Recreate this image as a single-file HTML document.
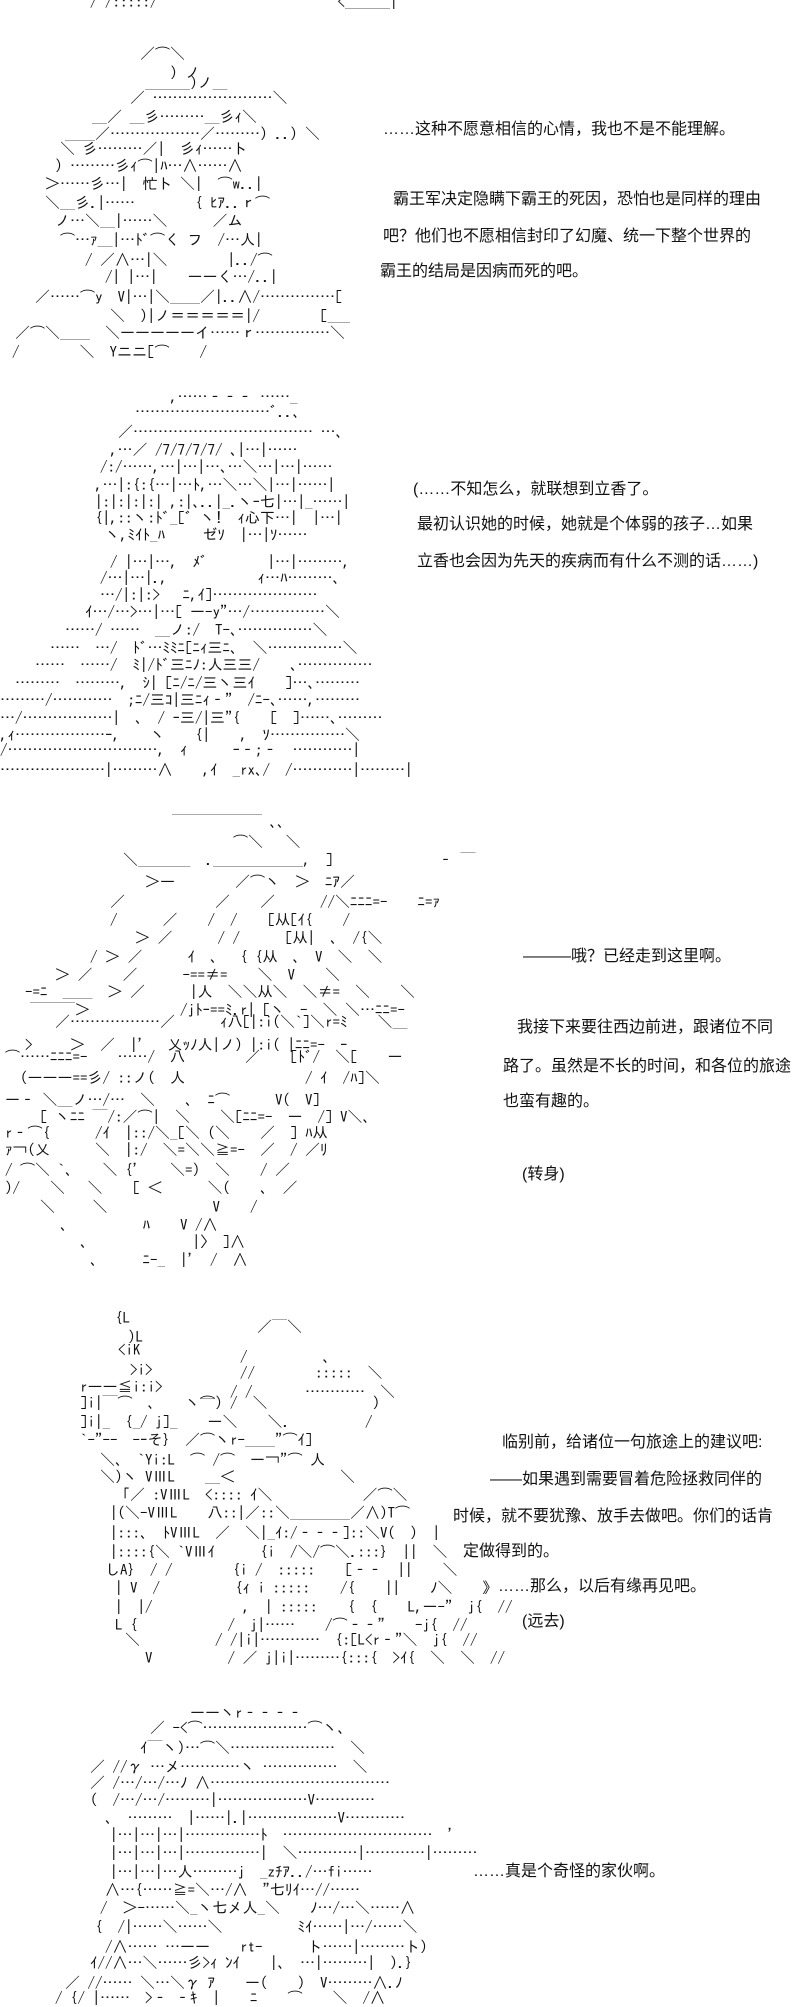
<!DOCTYPE html>
<html><head><meta charset="utf-8">
<style>
html,body{margin:0;padding:0;background:#fff;}
body{width:800px;height:2000px;position:relative;overflow:hidden;}
.a{position:absolute;white-space:pre;font-family:"IPAGothic","Noto Sans CJK JP",sans-serif;font-size:15px;line-height:18px;color:#111;}
.t{position:absolute;white-space:pre;font-family:"Liberation Sans","Noto Sans CJK SC",sans-serif;font-size:16px;line-height:20px;color:#111;}
</style></head><body>

<!-- Panel 1 -->
<div class="a" style="top:-7px;left:90px">/ /:::::/￣￣￣￣￣￣￣￣￣￣￣￣<＿＿＿|</div>
<div class="a" style="top:45px;left:140px">／⌒＼</div>
<div class="a" style="top:64px;left:170px">）ノ</div>
<div class="a" style="top:74px;left:145px">＿＿＿)ノ＿</div>
<div class="a" style="top:89px;left:130px">／ ……………………＼</div>
<div class="a" style="top:108px;left:92px">＿／ ＿彡………＿彡ｨ＼</div>
<div class="a" style="top:125px;left:65px">＿＿／………………／………）..）＼</div>
<div class="a" style="top:140px;left:60px">＼ 彡………／|　彡ｨ……ト</div>
<div class="a" style="top:157px;left:55px">）………彡ｨ⌒|ﾊ…∧……∧</div>
<div class="a" style="top:175px;left:45px">＞……彡…|　忙ト ＼|　⌒w..|</div>
<div class="a" style="top:194px;left:45px">＼__彡.|……　　　　{ ﾋｱ..ｒ⌒</div>
<div class="a" style="top:212px;left:55px">ノ…＼__|……＼　　　／ム</div>
<div class="a" style="top:231px;left:60px">⌒…ｧ__|…ﾄﾞ⌒く フ　/…人|</div>
<div class="a" style="top:251px;left:85px">/ ／∧…|＼　　　　|../⌒</div>
<div class="a" style="top:268px;left:105px">/| |…|　　ーーく…/..|</div>
<div class="a" style="top:288px;left:35px">／……⌒y　V|…|＼＿＿／|..∧/……………[</div>
<div class="a" style="top:307px;left:110px">＼　)|ノ＝＝＝＝＝|/　　　　[___</div>
<div class="a" style="top:324px;left:15px">／⌒＼＿＿　＼ーーーーーイ……ｒ……………＼</div>
<div class="a" style="top:343px;left:12px">/　　　　＼　Yニニ[⌒　　/</div>

<div class="t" style="top:120px;left:383px">……这种不愿意相信的心情，我也不是不能理解。</div>
<div class="t" style="top:190px;left:393px">霸王军决定隐瞒下霸王的死因，恐怕也是同样的理由</div>
<div class="t" style="top:227px;left:383px">吧？他们也不愿相信封印了幻魔、统一下整个世界的</div>
<div class="t" style="top:262px;left:380px">霸王的结局是因病而死的吧。</div>

<!-- Panel 2 -->
<div class="a" style="top:388px;left:170px">,……‐‐‐ ……_</div>
<div class="a" style="top:403px;left:135px">………………………ﾞ..､</div>
<div class="a" style="top:423px;left:118px">／……………………………… …､</div>
<div class="a" style="top:441px;left:110px">,…／ /7/7/7/7/ ､|…|……</div>
<div class="a" style="top:458px;left:100px">/:/……,…|…|…､…＼…|…|……</div>
<div class="a" style="top:476px;left:95px">,…|:{:{…|…ﾄ,…＼…＼|…|……|</div>
<div class="a" style="top:493px;left:95px">|:|:|:|:| ,:|､..|_.ヽｰ七|…|_……|</div>
<div class="a" style="top:509px;left:95px">{|,::ヽ:ﾄﾞ_[ﾞ ヽ!　ｨ心下…|　|…|</div>
<div class="a" style="top:526px;left:105px">ヽ,ﾐｲﾄ_ﾊ　　 ゼｿ　|…|ｿ……</div>
<div class="a" style="top:553px;left:110px">/ |…|…,　ﾒﾞ　　　　|…|………,</div>
<div class="a" style="top:569px;left:100px">/…|…|.,　　　　　　ｨ…ﾊ………､</div>
<div class="a" style="top:586px;left:100px">…/|:|:>　 ﾆ,ｲ]…………………</div>
<div class="a" style="top:603px;left:85px">ｲ…/…>…|…[ ー-y"…/……………＼</div>
<div class="a" style="top:621px;left:65px">……/ ……　＿ノ:/　T-､……………＼</div>
<div class="a" style="top:639px;left:50px">……　…/　ﾄﾞ…ﾐﾐﾆ[ﾆｨ三ﾆ､　＼……………＼</div>
<div class="a" style="top:656px;left:35px">……　……/　ﾐ|/ﾄﾞ三ﾆﾉ:人三三/　　､……………</div>
<div class="a" style="top:674px;left:15px">………　………,　ｼ| [ﾆ/ﾆ/三ヽ三ｲ　　]…､………</div>
<div class="a" style="top:691px;left:0px">………/…………　;ﾆ/三ｺ|三ﾆｨ‐"　/ﾆ-､……,………</div>
<div class="a" style="top:709px;left:0px">…/………………|　､　/ ｰ三/|三"{　　[　]……､………</div>
<div class="a" style="top:726px;left:0px">,ｨ………………ｰ,　　ヽ　　{|　　,　ｿ……………＼</div>
<div class="a" style="top:741px;left:0px">/…………………………,　ｨ　　　ｰ‐;‐　…………|</div>
<div class="a" style="top:761px;left:0px">…………………|………∧　　,ｲ　_rx､/　/…………|………|</div>

<div class="t" style="top:480px;left:413px">(……不知怎么，就联想到立香了。</div>
<div class="t" style="top:515px;left:417px">最初认识她的时候，她就是个体弱的孩子…如果</div>
<div class="t" style="top:552px;left:417px">立香也会因为先天的疾病而有什么不测的话……)</div>

<!-- Panel 3 -->
<div class="a" style="top:813px;left:172px">￣￣￣￣￣￣ ､､</div>
<div class="a" style="top:833px;left:233px">⌒＼　 ＼</div>
<div class="a" style="top:851px;left:123px">＼＿＿＿_　.＿＿＿＿＿＿,　]　　　　　　　‐ ￣</div>
<div class="a" style="top:873px;left:145px">＞―　　　　／⌒ヽ　＞　ﾆｱ／</div>
<div class="a" style="top:893px;left:110px">／　　　　　　／　　／　　　//＼ﾆﾆﾆ=-　　ﾆ=ｧ</div>
<div class="a" style="top:911px;left:110px">/　　　／　　/　/　　[从[ｲ{　　/</div>
<div class="a" style="top:929px;left:135px">＞ ／　　　/ /　　　[从|　､　/{＼</div>
<div class="a" style="top:948px;left:90px">/ ＞ ／　　　ｲ　、　{ {从　、 V　＼　＼</div>
<div class="a" style="top:966px;left:55px">＞ ／　　／　　　-==≠=　　＼　V　　＼</div>
<div class="a" style="top:983px;left:25px">-=ﾆ　＿＿　＞ ／　　　|人　＼＼从＼　＼≠=　＼　　＼</div>
<div class="a" style="top:1001px;left:30px">￣￣￣＞　　　　　　/jﾄｰ==ﾐ.r| [ヽ　-　＼ ＼…ﾆﾆ=-</div>
<div class="a" style="top:1013px;left:55px">／………………／　　　ｨ八[|:i(＼`]＼r=ﾐ　　＼＿</div>
<div class="a" style="top:1036px;left:25px">>　　 ＞　／　|'　 乂ｯﾉ人|ノ) |:i( |ﾆﾆ=-　ｰ</div>
<div class="a" style="top:1048px;left:5px">⌒……ﾆﾆﾆ=-　　……/　八　　　　／　　[ﾄﾞ/　＼[　　ー</div>
<div class="a" style="top:1069px;left:20px">(―――==彡/ ::ノ(　人　　　　　　　　/ ｲ　/ﾊ]＼</div>
<div class="a" style="top:1091px;left:5px">ー‐ ＼＿ノ…/…　＼　　､　ﾆ⌒　　　V(　V]</div>
<div class="a" style="top:1108px;left:40px">[ ヽﾆﾆ ￣/:／⌒|　＼　　＼[ﾆﾆ=-　ー　/] V＼､</div>
<div class="a" style="top:1124px;left:5px">r‐⌒{　　　/ｲ　|::/＼_[＼ (＼　　／　] ﾊ从</div>
<div class="a" style="top:1141px;left:5px">ｧ¬(乂　　　＼　|:/　＼=＼＼≧=-　／　/ ／ﾘ</div>
<div class="a" style="top:1161px;left:5px">/ ⌒＼ `､　　＼ {'　　＼=)　＼　　/ ／</div>
<div class="a" style="top:1179px;left:5px">)/　　＼　 ＼　　[ ＜　　　＼(　　､　／</div>
<div class="a" style="top:1198px;left:40px">＼　　 ＼　　　　　　　V　　/</div>
<div class="a" style="top:1216px;left:60px">､　　　　　ﾊ　　V /∧</div>
<div class="a" style="top:1233px;left:80px">､　　　　　　　|〉 ]∧</div>
<div class="a" style="top:1251px;left:90px">､　　　ﾆ-_　|'　/　∧</div>

<div class="t" style="top:947px;left:523px">———哦？已经走到这里啊。</div>
<div class="t" style="top:1018px;left:517px">我接下来要往西边前进，跟诸位不同</div>
<div class="t" style="top:1057px;left:503px">路了。虽然是不长的时间，和各位的旅途</div>
<div class="t" style="top:1092px;left:503px">也蛮有趣的。</div>
<div class="t" style="top:1165px;left:522px">(转身)</div>

<!-- Panel 4 -->
<div class="a" style="top:1309px;left:115px">{L</div>
<div class="a" style="top:1318px;left:257px">／￣＼</div>
<div class="a" style="top:1328px;left:128px">)L</div>
<div class="a" style="top:1341px;left:118px">&lt;iK</div>
<div class="a" style="top:1348px;left:240px">/　　　　　、</div>
<div class="a" style="top:1361px;left:130px">&gt;i&gt;</div>
<div class="a" style="top:1364px;left:240px">//　　　　:::::　＼</div>
<div class="a" style="top:1378px;left:80px">r――≦i:i&gt;</div>
<div class="a" style="top:1383px;left:200px">＿　/ /　　　 …………　＼</div>
<div class="a" style="top:1394px;left:80px">]i|￣⌒　､　　ヽ⌒) /　＼　　　　　　　)</div>
<div class="a" style="top:1413px;left:80px">]i|_　{_/ j]_　　ー＼　　＼.　　　　　/</div>
<div class="a" style="top:1431px;left:80px">`-"--　-ｰそ}　／⌒ヽr-＿＿"⌒ｲ]</div>
<div class="a" style="top:1451px;left:100px">＼､　`Yi:L　⌒ /⌒　ー¬"⌒ 人</div>
<div class="a" style="top:1468px;left:100px">＼)ヽ VⅢL　　＿＜　　　　　　　＼</div>
<div class="a" style="top:1486px;left:115px">「／ :VⅢL　&lt;:::: ｲ＼　　　　　　／⌒＼</div>
<div class="a" style="top:1504px;left:110px">|(＼-VⅢL　　八::|／::＼＿＿＿＿／∧)T⌒</div>
<div class="a" style="top:1524px;left:110px">|:::、 ﾄVⅢL　／　＼|_ｲ:/‐‐‐]::＼V(　)　|</div>
<div class="a" style="top:1543px;left:110px">|::::{＼ `VⅢｲ　　　{i　/＼/⌒＼.:::}　||　＼</div>
<div class="a" style="top:1561px;left:105px">しA}　/ /　　　　{i /　:::::　　[‐‐　||　　＼</div>
<div class="a" style="top:1579px;left:115px">| V　/　　　　　{ｨ i :::::　　/{　　||　　ﾉ＼　　》</div>
<div class="a" style="top:1598px;left:115px">|　|/　　　　　　,　| :::::　　{　{　　L,ー-"　j{　//</div>
<div class="a" style="top:1616px;left:115px">L {　　　　　　/　j|……　　/⌒‐‐"　　-j{　//</div>
<div class="a" style="top:1631px;left:125px">＼　　　　　/ /|i|…………　{:[L&lt;r‐"＼　j{　//</div>
<div class="a" style="top:1649px;left:145px">V　　　　　/ ／ j|i|………{:::{　&gt;ｲ{　＼　＼　//</div>

<div class="t" style="top:1433px;left:502px">临别前，给诸位一句旅途上的建议吧:</div>
<div class="t" style="top:1470px;left:490px">——如果遇到需要冒着危险拯救同伴的</div>
<div class="t" style="top:1507px;left:453px">时候，就不要犹豫、放手去做吧。你们的话肯</div>
<div class="t" style="top:1542px;left:463px">定做得到的。</div>
<div class="t" style="top:1577px;left:498px">……那么，以后有缘再见吧。</div>
<div class="t" style="top:1612px;left:522px">(远去)</div>

<!-- Panel 5 -->
<div class="a" style="top:1704px;left:190px">ーーヽr‐‐‐‐</div>
<div class="a" style="top:1719px;left:150px">／ -&lt;⌒…………………⌒ヽ､</div>
<div class="a" style="top:1739px;left:140px">ｲ￣ヽ)…⌒＼…………………　＼</div>
<div class="a" style="top:1758px;left:90px">／ //γ …メ…………ヽ ……………　＼</div>
<div class="a" style="top:1774px;left:90px">／ /…/…/…ﾉ ∧………………………………</div>
<div class="a" style="top:1791px;left:90px">(　/…/…/………|………………V…………</div>
<div class="a" style="top:1809px;left:105px">､　………　|……|.|………………V…………</div>
<div class="a" style="top:1826px;left:110px">|…|…|…|……………ﾄ　…………………………　'</div>
<div class="a" style="top:1844px;left:110px">|…|…|…|……………|　＼…………|…………|………</div>
<div class="a" style="top:1863px;left:110px">|…|…|…人………j　_zﾁｱ../…fi……</div>
<div class="a" style="top:1881px;left:105px">∧…{……≧=＼…/∧　"七ﾘｲ…//……</div>
<div class="a" style="top:1899px;left:100px">/　＞-……＼_ヽ七メ人_＼　　ﾉ…/…＼……∧</div>
<div class="a" style="top:1918px;left:95px">{　/|……＼……＼　　　　　ﾐｲ……|…/……＼</div>
<div class="a" style="top:1938px;left:105px">/∧…… …ーー　　rt-　　　ト……|………ト)</div>
<div class="a" style="top:1954px;left:90px">ｲ//∧…＼……彡&gt;ｨ ﾝｲ　　|、 …|………|　).}</div>
<div class="a" style="top:1974px;left:65px">／ //…… ＼…＼γ ｱ　　ー(　　)　V………∧.ﾉ</div>
<div class="a" style="top:1989px;left:55px">/ {/ |……　&gt;‐ ‐ｷ　|　　ﾆ　　⌒　　＼　/∧</div>

<div class="t" style="top:1862px;left:473px">……真是个奇怪的家伙啊。</div>

</body></html>
